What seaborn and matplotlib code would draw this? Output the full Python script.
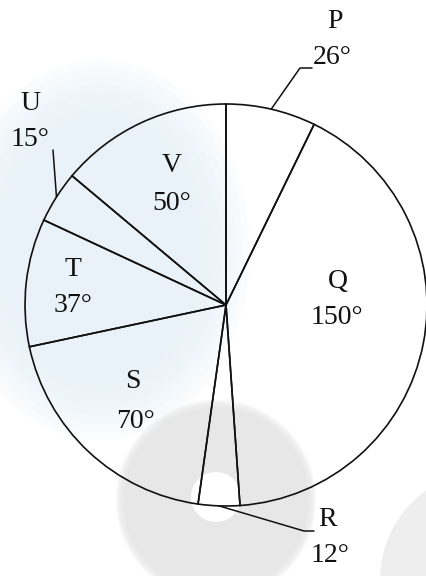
import numpy as np
import matplotlib
matplotlib.use("Agg")
import matplotlib.pyplot as plt
from matplotlib.patches import Ellipse, Circle
import seaborn as sns

sns.set_theme(style="white")
plt.rcParams['font.family'] = ['Liberation Serif', 'DejaVu Serif']

# sector names and central angles (degrees)
sectors = ["P", "Q", "R", "S", "T", "U", "V"]
degrees = [26, 150, 12, 70, 37, 15, 50]

H = 576


def px(x, y):
    # image pixel coords -> axes data coords (y up)
    return (x, H - y)


fig = plt.figure(figsize=(4.26, 5.76), dpi=100)
ax = fig.add_axes([0, 0, 1, 1])

# faint, soft watermark behind the chart
for k in range(8):
    ax.add_patch(Ellipse(px(100, 250), 300 - 14 * k, 380 - 16 * k,
                         color="#e2f0f8", alpha=0.14, lw=0, zorder=0))
for k in range(5):
    ax.add_patch(Circle(px(216, 500), 100 - 2 * k, color="#e4e4e4", alpha=0.3, lw=0, zorder=0))
ax.add_patch(Circle(px(216, 497), 25, color="white", lw=0, zorder=0))
ax.add_patch(Circle(px(490, 580), 110, color="#eeeeee", lw=0, zorder=0))

center = px(226, 305)
radius = 201
wedges, _ = ax.pie(degrees, startangle=90, counterclock=False,
                   center=center, radius=radius,
                   wedgeprops=dict(facecolor="none", edgecolor="#111111", linewidth=1.2))

ax.set_xlim(0, 426)
ax.set_ylim(0, H)
ax.set_aspect("equal")
ax.axis("off")

# label positions (image px): name, value
label_pos = {
    "P": ((335, 22), (332, 57)),
    "Q": ((338, 282), (337, 318)),
    "R": ((328, 520), (330, 555)),
    "S": ((133, 382), (135, 421)),
    "T": ((73, 270), (73, 306)),
    "U": ((30, 103), (30, 140)),
    "V": ((172, 165), (172, 203)),
}

for name, deg in zip(sectors, degrees):
    (nx, ny), (vx, vy) = label_pos[name]
    ax.text(*px(nx, ny), name, ha="center", va="center", fontsize=20, color="#111111")
    ax.text(*px(vx, vy), f"{deg}°", ha="center", va="center", fontsize=20, color="#111111")


def arc_mid(w):
    mid = np.deg2rad((w.theta1 + w.theta2) / 2)
    return (center[0] + radius * np.cos(mid), center[1] + radius * np.sin(mid))


# leader lines for the small / outside labels
leaders = {
    "P": [(300, 68), (312, 68)],
    "U": [(53, 150)],
    "R": [(304, 531), (314, 531)],
}
for w, name in zip(wedges, sectors):
    if name in leaders:
        pts = [arc_mid(w)] + [px(*p) for p in leaders[name]]
        xs, ys = zip(*pts)
        ax.plot(xs, ys, color="#111111", lw=1.1)

fig.savefig("out.png", dpi=100, facecolor="white")
